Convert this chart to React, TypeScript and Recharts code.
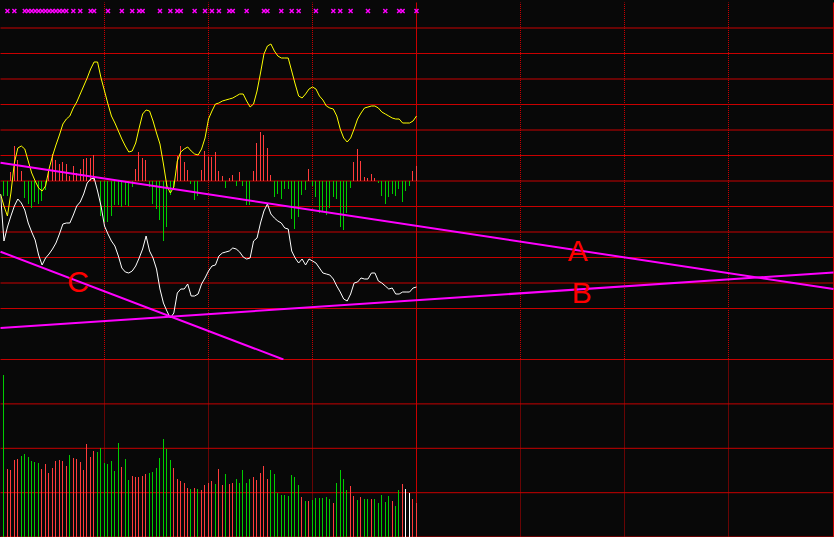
import React from "react";
import {
  ComposedChart,
  Bar,
  Line,
  Scatter,
  XAxis,
  YAxis,
  CartesianGrid,
  ReferenceLine,
  ReferenceDot,
  Cell,
} from "recharts";

// bar index; -1 is the point that sits on the left border (lines only)
const INDEX = Array.from({ length: 121 }, (_, k) => k - 1);

// yellow oscillator, from index -1 to 119
const YELLOW = [
  -13,
  -25, -35, -12, 18, 33, 35, 32, 20, 8, 0,
  -7, -10, -5, 12, 25, 36, 46, 57, 62, 65,
  73, 79, 87, 95, 103, 112, 119, 119, 103, 90,
  77, 65, 58, 50, 42, 35, 29, 30, 38, 53,
  67, 71, 70, 60, 48, 37, 17, -5, -12, -6,
  20, 29, 32, 34, 30, 27, 26, 32, 43, 62,
  70, 77, 78, 80, 81, 82, 83, 85, 87, 87,
  80, 74, 77, 90, 108, 127, 135, 137, 130, 125,
  123, 123, 123, 110, 97, 85, 83, 87, 92, 94,
  92, 85, 81, 75, 73, 72, 65, 52, 43, 39,
  43, 52, 62, 68, 73, 74, 75, 75, 73, 69,
  67, 65, 63, 62, 62, 58, 58, 58, 60, 65,
];

// white oscillator, from index -1 to 119
const WHITE = [
  -13,
  -60, -46, -35, -25, -18, -22, -29, -42, -51, -59,
  -74, -84, -77, -73, -68, -62, -53, -43, -42, -42,
  -34, -25, -21, -13, -2, 2, 3, -10, -25, -45,
  -53, -60, -65, -75, -87, -91, -92, -90, -85, -77,
  -68, -55, -70, -77, -88, -108, -122, -130, -137, -132,
  -112, -108, -108, -103, -115, -115, -113, -103, -97, -90,
  -85, -84, -75, -72, -71, -70, -67, -68, -71, -76,
  -78, -77, -60, -57, -42, -30, -23, -33, -37, -40,
  -42, -47, -48, -70, -77, -82, -78, -84, -78, -80,
  -82, -87, -92, -93, -94, -98, -105, -111, -118, -120,
  -113, -102, -101, -97, -98, -98, -92, -92, -100, -102,
  -105, -108, -107, -113, -113, -111, -111, -111, -107, -106,
];

// histogram, index 0 to 119
const MACD = [
  -15, -15, 9, 35, 21, 10, -17, -23, -27, -21,
  -23, -20, -9, 9, 27, 21, 17, 19, 17, 5,
  15, 8, 12, 22, 23, 23, 26, 0, -35, -41,
  -41, -35, -24, -24, -26, -24, -25, -6, 12, 29,
  23, 21, -6, -23, -28, -39, -60, -46, -14, -6,
  25, 35, 19, 11, -3, -19, -15, 11, 30, 24,
  24, 29, 10, 5, -7, 3, 6, -5, 9, -5,
  -24, -24, 10, 38, 49, 46, 33, 6, -16, -13,
  -18, -8, -8, -38, -48, -36, -14, -9, 12, -5,
  -16, -32, -30, -34, -27, -16, -18, -46, -49, -32,
  -7, 19, 32, 20, 4, 3, 7, 3, -2, -15,
  -23, -16, -13, -15, -8, -21, -10, -5, 10, 15,
];

// volume, index 0 to 119
const VOLUME = [
  162, 68, 67, 77, 78, 81, 83, 80, 76, 75,
  74, 68, 73, 64, 69, 76, 77, 76, 71, 82,
  79, 78, 75, 67, 93, 80, 86, 85, 89, 74,
  73, 76, 66, 94, 70, 78, 57, 61, 60, 60,
  61, 63, 64, 65, 69, 79, 98, 88, 77, 69,
  58, 56, 54, 49, 48, 49, 48, 47, 52, 54,
  56, 53, 68, 52, 63, 53, 54, 58, 54, 67,
  54, 58, 60, 57, 64, 71, 58, 67, 63, 44,
  42, 42, 41, 62, 60, 52, 40, 36, 36, 37,
  39, 39, 39, 40, 38, 34, 54, 67, 58, 47,
  51, 41, 37, 40, 38, 38, 38, 38, 34, 42,
  35, 41, 36, 31, 47, 53, 48, 44, 38, 34,
];

// R = up, G = down, W = flat
const TONES = (
  "GRRRRGGGGG" + "GRRRRRRRRG" + "RRRRRRRGGG" + "GGGGRGGRRR" +
  "RRGGGGGGGR" + "RRRRGRGRRR" + "RGRRGRRGGG" + "GGRRRRRGGG" +
  "GGGGGGRGRG" + "GGGGGRGGGG" + "RRGRGGRGGG" + "GGRGGRWWRR"
).split("");

// signal markers along the top row
const MARKERS = [
  1, 3, 6, 7, 8, 9, 10, 11, 12, 13, 14, 15, 16, 17, 18, 20, 22, 25, 26, 30,
  34, 37, 39, 40, 45, 48, 50, 51, 55, 58, 60, 62, 65, 66, 70, 75, 76, 80, 83,
  85, 90, 95, 97, 100, 105, 110, 114, 115, 119,
];
const MARK_LEVEL = 170;

const X_MAX = 239.288;

// trend lines: [x1, y1, x2, y2] in index / indicator units
const TREND_A = [-1, 18.3, X_MAX, -108.1];
const TREND_B = [-1, -147, X_MAX, -91.4];
const TREND_C = [-1, -70.7, 80.6, -178.5];
const TREND_LABELS = [
  { text: "A", x: 165.5, y: -69 },
  { text: "B", x: 166.7, y: -111.3 },
  { text: "C", x: 21.4, y: -100.3 },
];

const UPPER_GRID = [
  178.5, 153, 127.5, 102, 76.5, 51, 25.5, 0, -25.5, -51, -76.5, -102, -127.5, -153, -178.5,
];
const LOWER_GRID = [177.5, 155.3, 133.1, 110.9, 88.7, 66.5, 44.3, 22.1, 0];
const DOTTED_X = [29, 59, 89, 149, 179, 209];
const SOLID_X = [-1, 119, X_MAX];

const BG = "#080808";
const GRID = "#c80000";
const UP = "#ff3c3c";
const DOWN = "#00cc00";
const PINK = "#ff00ff";

const upperRows = INDEX.map((idx, k) => ({
  idx,
  yellow: YELLOW[k],
  white: WHITE[k],
  macd: idx < 0 ? null : MACD[idx],
}));

const volumeRows = VOLUME.map((vol, i) => ({ idx: i, vol, tone: TONES[i] }));

const markerRows = MARKERS.map((idx) => ({ idx, mark: MARK_LEVEL }));

const toneColor = (t: string) => (t === "R" ? UP : t === "G" ? DOWN : "#ffffff");

function Cross(props: any) {
  const { cx, cy } = props;
  if (cx == null || cy == null) return null;
  return (
    <path
      d={`M${cx - 2} ${cy - 2}L${cx + 2} ${cy + 2}M${cx + 2} ${cy - 2}L${cx - 2} ${cy + 2}`}
      stroke={PINK}
      strokeWidth={1.5}
      fill="none"
    />
  );
}

function trendLine(t: number[], key: string) {
  return (
    <ReferenceLine
      key={key}
      segment={[
        { x: t[0], y: t[1] },
        { x: t[2], y: t[3] },
      ]}
      stroke={PINK}
      strokeWidth={2}
      ifOverflow="visible"
    />
  );
}

function gridLayers(rows: number[], dashOffset: number) {
  return [
    <CartesianGrid
      key="h"
      vertical={false}
      horizontalValues={rows}
      stroke={GRID}
      strokeOpacity={1}
    />,
    <CartesianGrid
      key="vd"
      horizontal={false}
      verticalValues={DOTTED_X}
      stroke={GRID}
      strokeDasharray="1 1"
      strokeDashoffset={dashOffset}
    />,
    <CartesianGrid
      key="vs"
      horizontal={false}
      verticalValues={SOLID_X}
      stroke={GRID}
    />,
  ];
}

export default function App() {
  return (
    <div
      style={{
        position: "absolute",
        left: 0,
        top: 0,
        width: 834,
        height: 537,
        background: BG,
        overflow: "hidden",
      }}
    >
      <div style={{ position: "absolute", left: 0, top: 0 }}>
        <ComposedChart
          width={834}
          height={360}
          data={upperRows}
          margin={{ top: 2.5, right: 0.5, bottom: 0.5, left: 0.5 }}
        >
          <XAxis
            type="number"
            dataKey="idx"
            domain={[-1, X_MAX]}
            allowDataOverflow
            hide
          />
          <YAxis
            type="number"
            domain={[-178.5, 178.5]}
            ticks={UPPER_GRID}
            allowDataOverflow
            hide
          />
          {gridLayers(UPPER_GRID, 0.5)}
          <Bar
            dataKey="macd"
            barSize={1}
            isAnimationActive={false}
            shapeRendering="crispEdges"
          >
            {upperRows.map((r, k) => (
              <Cell key={k} fill={(r.macd ?? 0) >= 0 ? UP : DOWN} />
            ))}
          </Bar>
          <Line
            dataKey="yellow"
            type="linear"
            stroke="#ffff00"
            strokeWidth={1}
            dot={false}
            activeDot={false}
            isAnimationActive={false}
          />
          <Line
            dataKey="white"
            type="linear"
            stroke="#ffffff"
            strokeWidth={1}
            dot={false}
            activeDot={false}
            isAnimationActive={false}
          />
          <Scatter
            data={markerRows}
            dataKey="mark"
            shape={Cross}
            isAnimationActive={false}
          />
          {trendLine(TREND_A, "A")}
          {trendLine(TREND_B, "B")}
          {trendLine(TREND_C, "C")}
          {TREND_LABELS.map((l) => (
            <ReferenceDot
              key={l.text}
              x={l.x}
              y={l.y}
              r={0}
              stroke="none"
              fill="none"
              ifOverflow="visible"
              label={{
                value: l.text,
                position: "center",
                fill: "#ff0000",
                fontSize: 30,
                fontFamily: "Liberation Sans, Arial, sans-serif",
              }}
            />
          ))}
        </ComposedChart>
      </div>
      <div style={{ position: "absolute", left: 0, top: 359 }}>
        <ComposedChart
          width={834}
          height={178}
          data={volumeRows}
          margin={{ top: 0.5, right: 0.5, bottom: 0, left: 0.5 }}
        >
          <XAxis
            type="number"
            dataKey="idx"
            domain={[-1, X_MAX]}
            allowDataOverflow
            hide
          />
          <YAxis
            type="number"
            domain={[0, 177.5]}
            ticks={LOWER_GRID}
            allowDataOverflow
            hide
          />
          {gridLayers(LOWER_GRID, 0)}
          <Bar
            dataKey="vol"
            barSize={1}
            isAnimationActive={false}
            shapeRendering="crispEdges"
          >
            {volumeRows.map((r) => (
              <Cell key={r.idx} fill={toneColor(r.tone)} />
            ))}
          </Bar>
        </ComposedChart>
      </div>
    </div>
  );
}
